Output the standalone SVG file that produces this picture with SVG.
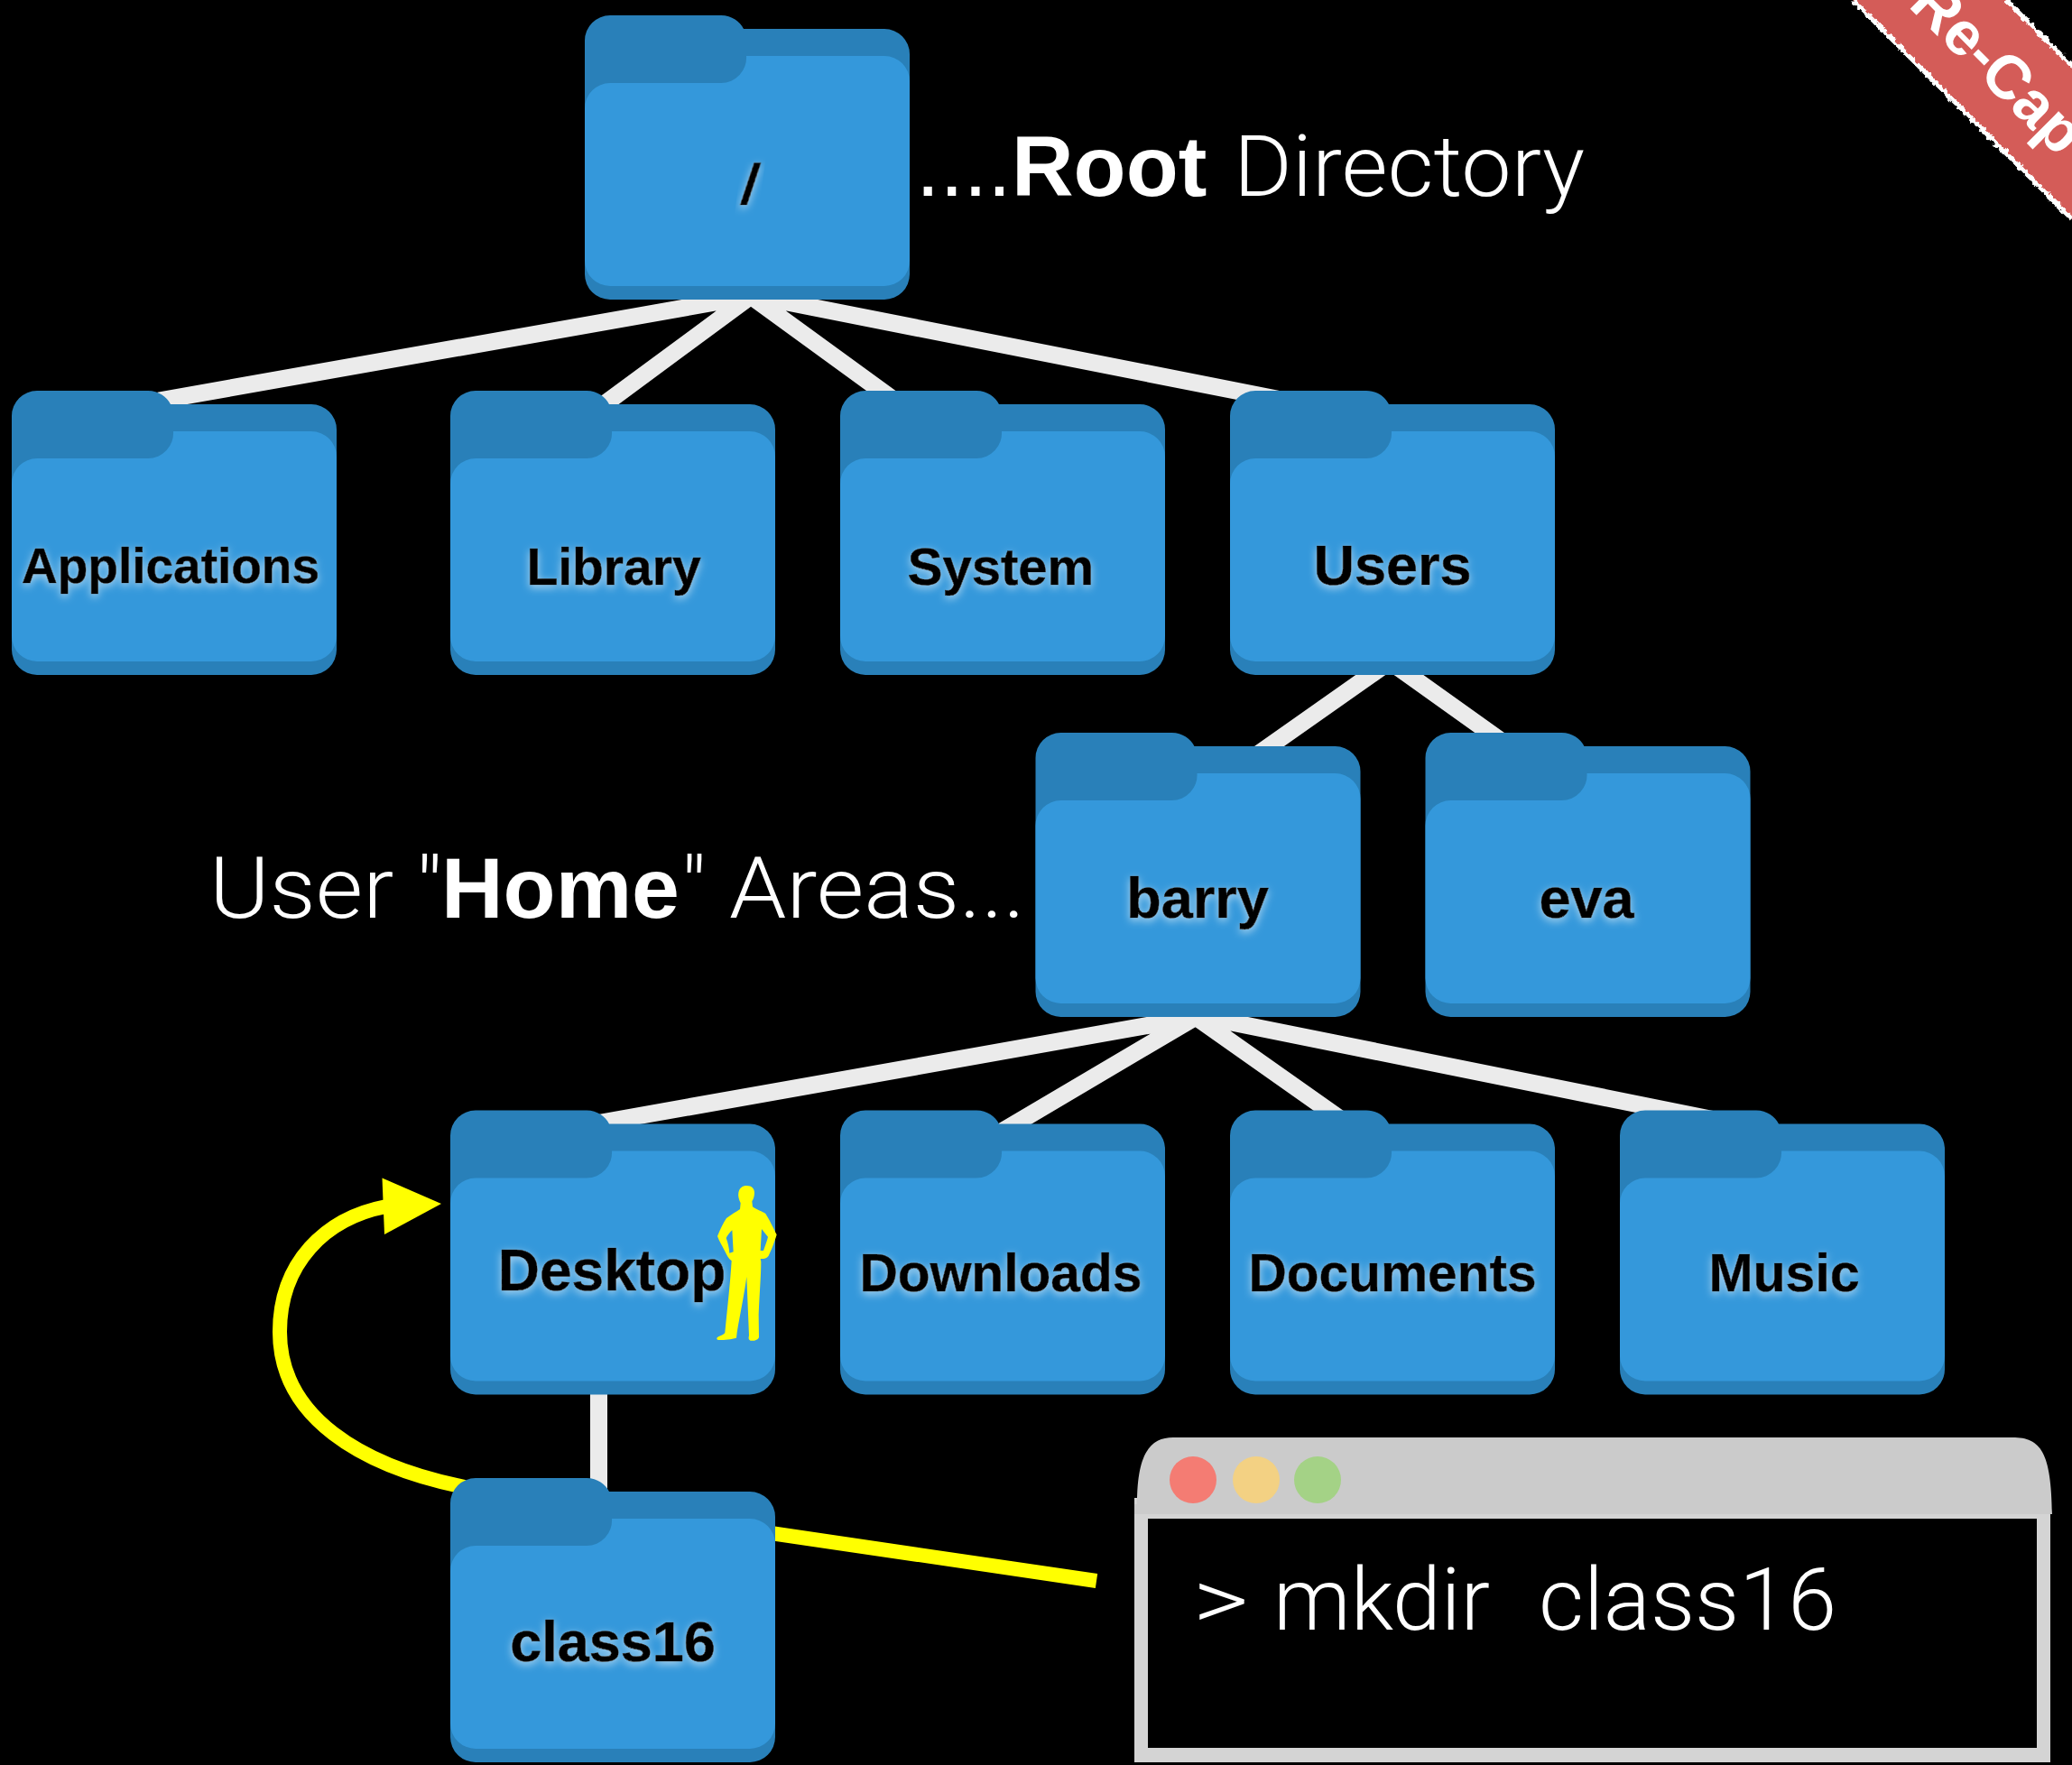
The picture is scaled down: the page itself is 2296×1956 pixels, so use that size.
<svg xmlns="http://www.w3.org/2000/svg" width="2296" height="1956" viewBox="0 0 2296 1956">
<style>
.back{fill:#2980b9}.front{fill:#3498db}
.label{font-family:"Liberation Sans",Arial,sans-serif;font-weight:700;fill:#000;stroke:#000;stroke-width:.7;text-anchor:middle;filter:url(#glow)}
.big{font-family:Roboto,"Liberation Sans",sans-serif;font-weight:300;fill:#fff;white-space:pre}
.big .b{font-family:"Liberation Sans",sans-serif;font-weight:700}
.big .d{font-family:"Liberation Sans",sans-serif;font-weight:400}
.tree{stroke:#ebebeb;stroke-width:19;fill:none}
.yel{stroke:#ffff00;fill:none}
</style>
<defs>
<filter id="glow" x="-20%" y="-40%" width="140%" height="190%">
<feGaussianBlur in="SourceAlpha" stdDeviation="5" result="b"/>
<feFlood flood-color="#ffffff" flood-opacity=".6"/>
<feComposite in2="b" operator="in" result="g"/>
<feOffset in="g" dy="3" result="o"/>
<feMerge><feMergeNode in="o"/><feMergeNode in="SourceGraphic"/></feMerge>
</filter>
<filter id="rough" filterUnits="userSpaceOnUse" x="1980" y="-20" width="340" height="300">
<feTurbulence type="fractalNoise" baseFrequency="0.18" numOctaves="2" seed="4"/>
<feDisplacementMap in="SourceGraphic" scale="7" xChannelSelector="R" yChannelSelector="G"/>
</filter>
<symbol id="folder" width="360" height="315" viewBox="0 0 360 315" overflow="visible">
<path class="back" d="M0 28A28 28 0 0 1 28 0H151C163 0 172 7 176 15H332A28 28 0 0 1 360 43V287A28 28 0 0 1 332 315H28A28 28 0 0 1 0 287Z"/>
<path class="front" d="M0 103A28 28 0 0 1 28 75H151A28 28 0 0 0 179 45H332A28 28 0 0 1 360 73V272A28 28 0 0 1 332 300H28A28 28 0 0 1 0 272Z"/>
</symbol>
</defs>
<rect width="2296" height="1956" fill="#000"/>
<g id="connectors">
<path class="tree" d="M832 328L176 444M832 328L660 455M832 328L990 443M832 327L1440 447"/>
<path class="tree" d="M1540 733L1388 840M1540 733L1673 828"/>
<path class="tree" d="M1325 1127L655 1246M1325 1127L1100 1260M1325 1127L1505 1254M1325 1125L1910 1243"/>
<path class="tree" d="M663.500 1530V1660"/>
<path class="yel" stroke-width="16" d="M820 1694L1215 1752"/>
<path class="yel" stroke-width="16" d="M515 1648C400 1625 310 1570 310 1476C310 1400 360 1350 428 1337"/>
<polygon points="423.500,1305.400 489,1334 426,1368" fill="#ffff00"/>
</g>
<g id="node-root"><use href="#folder" x="648" y="17"/><text class="label" transform="translate(828.500 226) skewX(-8)" font-size="63">/</text></g>
<g id="node-applications"><use href="#folder" x="13" y="433"/><text class="label" x="189" y="646" font-size="55">Applications</text></g>
<g id="node-library"><use href="#folder" x="499" y="433"/><text class="label" x="680" y="648" font-size="57">Library</text></g>
<g id="node-system"><use href="#folder" x="931" y="433"/><text class="label" x="1109" y="648" font-size="58">System</text></g>
<g id="node-users"><use href="#folder" x="1363" y="433"/><text class="label" x="1543" y="648" font-size="63">Users</text></g>
<g id="node-barry"><use href="#folder" x="1147.500" y="812"/><text class="label" x="1327" y="1017" font-size="63">barry</text></g>
<g id="node-eva"><use href="#folder" x="1579.500" y="812"/><text class="label" x="1758" y="1017" font-size="63">eva</text></g>
<g id="node-desktop"><use href="#folder" x="499" y="1230.500"/><text class="label" x="678" y="1430" font-size="64">Desktop</text>
<path transform="translate(770 1300) scale(.3333)" fill="#ffff00" fill-rule="evenodd" d="M172 42C190 42 198 52 198 66C198 78 194 88 190 94L192 112C205 122 225 128 235 135C248 155 262 185 272 205C264 232 252 262 245 275C238 285 225 286 218 285L220 295C220 340 215 400 212 470L213 545C212 555 195 559 185 557C178 555 178 548 180 540L172 345C165 400 150 470 140 530L138 548C120 553 90 556 78 555C70 553 72 546 80 543C90 538 98 535 100 530C108 450 118 360 122 292C112 285 106 272 100 260C90 240 80 225 75 210C85 185 95 165 105 150C120 138 138 128 150 120L152 100C146 88 143 75 145 65C148 50 158 42 172 42ZM124 190C116 198 108 208 104 216C110 232 114 250 115 266L128 262ZM222 186L218 258L228 258C234 240 240 225 243 212C236 204 228 194 222 186Z"/></g>
<g id="node-downloads"><use href="#folder" x="931" y="1230.500"/><text class="label" x="1109" y="1431" font-size="58.700">Downloads</text></g>
<g id="node-documents"><use href="#folder" x="1363" y="1230.500"/><text class="label" x="1543" y="1431" font-size="58.600">Documents</text></g>
<g id="node-music"><use href="#folder" x="1795" y="1230.500"/><text class="label" x="1977" y="1431" font-size="59">Music</text></g>
<g id="node-class16"><use href="#folder" x="499" y="1638"/><text class="label" x="679" y="1841" font-size="63">class16</text></g>
<g id="terminal">
<rect x="1257" y="1660" width="1015" height="293" fill="#d4d4d4"/>
<path fill="#cbcbcb" d="M1257 1678V1667H1260C1260 1610 1275 1593 1300 1593H2230C2262 1593 2273 1610 2274 1678Z"/>
<rect x="1272" y="1683" width="985" height="254" fill="#000"/>
<ellipse cx="1322" cy="1640" rx="26" ry="26" fill="#f47c73"/>
<ellipse cx="1392" cy="1640" rx="26" ry="26" fill="#f3d183"/>
<ellipse cx="1460" cy="1640" rx="26" ry="26" fill="#a4d286"/>
<text class="big" y="1806" font-size="97"><tspan x="1322" textLength="62" lengthAdjust="spacingAndGlyphs">&gt;</tspan> <tspan x="1411" textLength="240" lengthAdjust="spacingAndGlyphs">mkdir</tspan>  <tspan x="1705" textLength="330" lengthAdjust="spacingAndGlyphs">class16</tspan></text>
</g>
<text id="root-caption" class="big" y="217" font-size="95"><tspan class="d" x="1015">....</tspan><tspan class="b" x="1121">Root</tspan> <tspan x="1367" textLength="389" lengthAdjust="spacingAndGlyphs">Directory</tspan></text>
<text id="home-caption" class="big" y="1017" font-size="95"><tspan x="232" textLength="258" lengthAdjust="spacingAndGlyphs">User "</tspan><tspan class="b" x="489">Home</tspan><tspan x="755">"</tspan> <tspan x="808" textLength="328" lengthAdjust="spacingAndGlyphs">Areas...</tspan></text>
<g id="banner">
<polygon points="2053,0 2223,0 2296,73 2296,243" fill="#d45c58"/>
<path d="M2053 0L2296 243M2223 0L2296 73" stroke="#fff" stroke-width="5" fill="none" filter="url(#rough)"/>
<text transform="translate(2113.500 6.500) rotate(45)" font-family="'Liberation Sans',Arial,sans-serif" font-weight="700" font-size="68" fill="#fff">Re-Cap</text>
</g>
</svg>
